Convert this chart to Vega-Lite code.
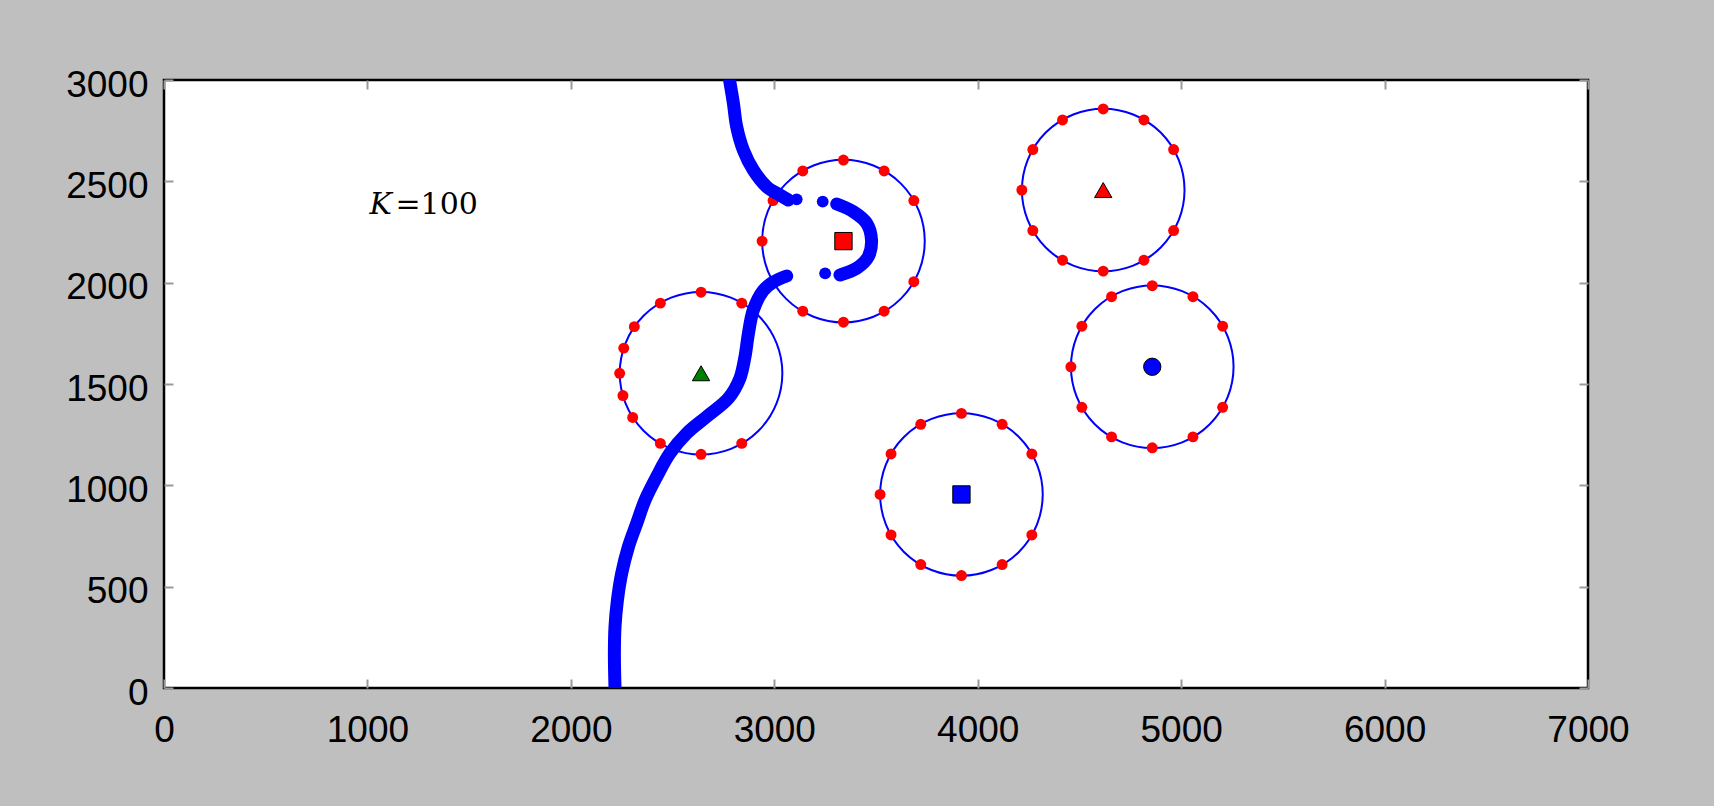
{
  "$schema": "https://vega.github.io/schema/vega-lite/v6.json",
  "width": 1424,
  "height": 608,
  "autosize": {"type": "none"},
  "padding": {"left": 164, "top": 80, "right": 126, "bottom": 118},
  "background": "#bfbfbf",
  "config": {
    "view": {"fill": "white", "stroke": "black", "strokeWidth": 2.5},
    "axis": {"grid": false, "domain": false, "title": null}
  },
  "datasets": {
    "centers": [
      {"cx": 2640, "cy": 1553, "kind": "g-tri"},
      {"cx": 3340, "cy": 2205, "kind": "r-sq"},
      {"cx": 4617, "cy": 2457, "kind": "r-tri"},
      {"cx": 4858, "cy": 1585, "kind": "b-circ"},
      {"cx": 3920, "cy": 955, "kind": "b-sq"}
    ],
    "dots": [
      {"x": 2840, "y": 1899}, {"x": 2640, "y": 1953}, {"x": 2440, "y": 1899}, {"x": 2312, "y": 1783},
      {"x": 2260, "y": 1677}, {"x": 2240, "y": 1553}, {"x": 2256, "y": 1443}, {"x": 2304, "y": 1335},
      {"x": 2440, "y": 1207}, {"x": 2640, "y": 1153}, {"x": 2840, "y": 1207},
      {"x": 3686, "y": 2405}, {"x": 3540, "y": 2551}, {"x": 3340, "y": 2605}, {"x": 3140, "y": 2551},
      {"x": 2994, "y": 2405}, {"x": 2940, "y": 2205}, {"x": 2994, "y": 2005}, {"x": 3140, "y": 1859},
      {"x": 3340, "y": 1805}, {"x": 3540, "y": 1859}, {"x": 3686, "y": 2005},
      {"x": 4963, "y": 2657}, {"x": 4817, "y": 2803}, {"x": 4617, "y": 2857}, {"x": 4417, "y": 2803},
      {"x": 4271, "y": 2657}, {"x": 4217, "y": 2457}, {"x": 4271, "y": 2257}, {"x": 4417, "y": 2111},
      {"x": 4617, "y": 2057}, {"x": 4817, "y": 2111}, {"x": 4963, "y": 2257},
      {"x": 5204, "y": 1785}, {"x": 5058, "y": 1931}, {"x": 4858, "y": 1985}, {"x": 4658, "y": 1931},
      {"x": 4512, "y": 1785}, {"x": 4458, "y": 1585}, {"x": 4512, "y": 1385}, {"x": 4658, "y": 1239},
      {"x": 4858, "y": 1185}, {"x": 5058, "y": 1239}, {"x": 5204, "y": 1385},
      {"x": 4266, "y": 1155}, {"x": 4120, "y": 1301}, {"x": 3920, "y": 1355}, {"x": 3720, "y": 1301},
      {"x": 3574, "y": 1155}, {"x": 3520, "y": 955}, {"x": 3574, "y": 755}, {"x": 3720, "y": 609},
      {"x": 3920, "y": 555}, {"x": 4120, "y": 609}, {"x": 4266, "y": 755}
    ],
    "curve": [
      {"seg": "a", "i": 1, "x": 2780, "y": 3000},
      {"seg": "a", "i": 2, "x": 2799, "y": 2885},
      {"seg": "a", "i": 3, "x": 2815, "y": 2770},
      {"seg": "a", "i": 4, "x": 2848, "y": 2654},
      {"seg": "a", "i": 5, "x": 2897, "y": 2556},
      {"seg": "a", "i": 6, "x": 2963, "y": 2473},
      {"seg": "a", "i": 7, "x": 3028, "y": 2432},
      {"seg": "a", "i": 8, "x": 3069, "y": 2408},
      {"seg": "b", "i": 1, "x": 3307, "y": 2388},
      {"seg": "b", "i": 2, "x": 3389, "y": 2350},
      {"seg": "b", "i": 3, "x": 3454, "y": 2293},
      {"seg": "b", "i": 4, "x": 3478, "y": 2210},
      {"seg": "b", "i": 5, "x": 3462, "y": 2128},
      {"seg": "b", "i": 6, "x": 3405, "y": 2071},
      {"seg": "b", "i": 7, "x": 3323, "y": 2038},
      {"seg": "c", "i": 1, "x": 3061, "y": 2033},
      {"seg": "c", "i": 2, "x": 2995, "y": 2003},
      {"seg": "c", "i": 3, "x": 2945, "y": 1960},
      {"seg": "c", "i": 4, "x": 2897, "y": 1865},
      {"seg": "c", "i": 5, "x": 2873, "y": 1750},
      {"seg": "c", "i": 6, "x": 2856, "y": 1635},
      {"seg": "c", "i": 7, "x": 2830, "y": 1525},
      {"seg": "c", "i": 8, "x": 2775, "y": 1430},
      {"seg": "c", "i": 9, "x": 2668, "y": 1339},
      {"seg": "c", "i": 10, "x": 2570, "y": 1257},
      {"seg": "c", "i": 11, "x": 2487, "y": 1158},
      {"seg": "c", "i": 12, "x": 2422, "y": 1043},
      {"seg": "c", "i": 13, "x": 2365, "y": 928},
      {"seg": "c", "i": 14, "x": 2324, "y": 813},
      {"seg": "c", "i": 15, "x": 2283, "y": 697},
      {"seg": "c", "i": 16, "x": 2250, "y": 566},
      {"seg": "c", "i": 17, "x": 2229, "y": 434},
      {"seg": "c", "i": 18, "x": 2217, "y": 302},
      {"seg": "c", "i": 19, "x": 2214, "y": 171},
      {"seg": "c", "i": 20, "x": 2217, "y": 0}
    ],
    "iso": [
      {"x": 3110, "y": 2411},
      {"x": 3238, "y": 2400},
      {"x": 3250, "y": 2046}
    ],
    "notes": [
      {"x": 1000, "y": 2340, "k": "K", "rest": "=100"}
    ]
  },
  "resolve": {"axis": {"x": "independent", "y": "independent"}},
  "layer": [
    {
      "data": {"name": "centers"},
      "mark": {"type": "point", "shape": "circle", "filled": false, "stroke": "#0000ff", "strokeWidth": 2, "size": 26440, "opacity": 1, "clip": true},
      "encoding": {
        "x": {"field": "cx", "type": "quantitative", "scale": {"domain": [0, 7000], "nice": false, "zero": false},
          "axis": {"orient": "bottom", "values": [0, 1000, 2000, 3000, 4000, 5000, 6000, 7000], "format": "d", "labelFont": "Liberation Sans", "labelFontSize": 37, "labelColor": "black", "labelPadding": 24, "labelFlush": false, "labelOverlap": false, "ticks": false}},
        "y": {"field": "cy", "type": "quantitative", "scale": {"domain": [0, 3000], "nice": false, "zero": false},
          "axis": {"orient": "left", "values": [0, 500, 1000, 1500, 2000, 2500, 3000], "format": "d", "labelFont": "Liberation Sans", "labelFontSize": 37, "labelColor": "black", "labelPadding": 16, "labelOffset": 5, "labelFlush": false, "labelOverlap": false, "ticks": false}}
      }
    },
    {
      "data": {"name": "dots"},
      "mark": {"type": "point", "shape": "circle", "filled": true, "color": "#ff0000", "size": 120, "opacity": 1, "strokeWidth": 0},
      "encoding": {
        "x": {"field": "x", "type": "quantitative",
          "axis": {"orient": "bottom", "values": [0, 1000, 2000, 3000, 4000, 5000, 6000, 7000], "labels": false, "ticks": true, "tickSize": -9, "tickColor": "#9a9a9a", "tickWidth": 2}},
        "y": {"field": "y", "type": "quantitative",
          "axis": {"orient": "left", "values": [0, 500, 1000, 1500, 2000, 2500, 3000], "labels": false, "ticks": true, "tickSize": -9, "tickColor": "#9a9a9a", "tickWidth": 2}}
      }
    },
    {
      "data": {"name": "curve"},
      "mark": {"type": "line", "color": "#0000ff", "strokeWidth": 13, "strokeCap": "round", "strokeJoin": "round", "interpolate": "catmull-rom", "clip": true},
      "encoding": {
        "x": {"field": "x", "type": "quantitative",
          "axis": {"orient": "top", "values": [0, 1000, 2000, 3000, 4000, 5000, 6000, 7000], "labels": false, "ticks": true, "tickSize": -9, "tickColor": "#9a9a9a", "tickWidth": 2}},
        "y": {"field": "y", "type": "quantitative",
          "axis": {"orient": "right", "values": [0, 500, 1000, 1500, 2000, 2500, 3000], "labels": false, "ticks": true, "tickSize": -9, "tickColor": "#9a9a9a", "tickWidth": 2}},
        "detail": {"field": "seg"},
        "order": {"field": "i", "type": "quantitative"}
      }
    },
    {
      "data": {"name": "iso"},
      "mark": {"type": "point", "shape": "circle", "filled": true, "color": "#0000ff", "size": 140, "opacity": 1, "strokeWidth": 0},
      "encoding": {
        "x": {"field": "x", "type": "quantitative", "axis": null},
        "y": {"field": "y", "type": "quantitative", "axis": null}
      }
    },
    {
      "data": {"name": "centers"},
      "mark": {"type": "point", "filled": true, "size": 300, "opacity": 1, "stroke": "black", "strokeWidth": 1},
      "encoding": {
        "x": {"field": "cx", "type": "quantitative", "axis": null},
        "y": {"field": "cy", "type": "quantitative", "axis": null},
        "shape": {"field": "kind", "type": "nominal", "legend": null,
          "scale": {"domain": ["g-tri", "r-sq", "r-tri", "b-circ", "b-sq"], "range": ["triangle-up", "square", "triangle-up", "circle", "square"]}},
        "fill": {"field": "kind", "type": "nominal", "legend": null,
          "scale": {"domain": ["g-tri", "r-sq", "r-tri", "b-circ", "b-sq"], "range": ["#008000", "#ff0000", "#ff0000", "#0000ff", "#0000ff"]}}
      }
    },
    {
      "data": {"name": "notes"},
      "mark": {"type": "text", "font": "DejaVu Serif", "fontStyle": "italic", "fontSize": 30, "align": "left", "baseline": "alphabetic", "color": "black", "dx": 2},
      "encoding": {
        "x": {"field": "x", "type": "quantitative", "axis": null},
        "y": {"field": "y", "type": "quantitative", "axis": null},
        "text": {"field": "k"}
      }
    },
    {
      "data": {"name": "notes"},
      "mark": {"type": "text", "font": "DejaVu Serif", "fontSize": 30, "align": "left", "baseline": "alphabetic", "color": "black", "dx": 28},
      "encoding": {
        "x": {"field": "x", "type": "quantitative", "axis": null},
        "y": {"field": "y", "type": "quantitative", "axis": null},
        "text": {"field": "rest"}
      }
    }
  ]
}
